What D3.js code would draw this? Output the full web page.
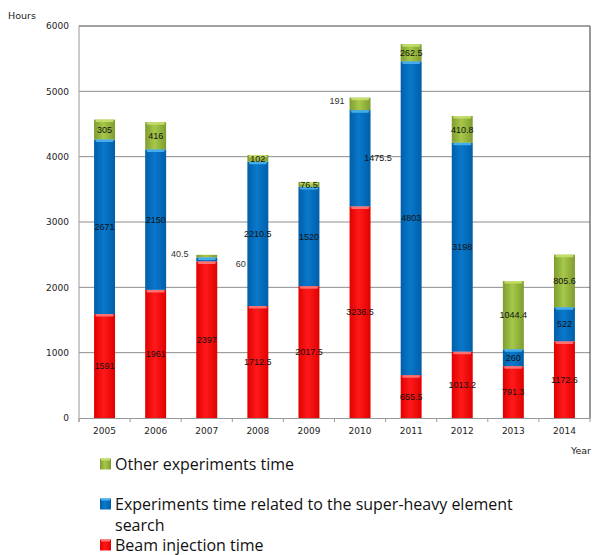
<!DOCTYPE html>
<html>
<head>
<meta charset="utf-8">
<script src="https://cdn.jsdelivr.net/npm/d3@7"></script>
<style>
  body { margin: 0; background: #fff; }
  svg { display: block; }
</style>
</head>
<body>
<div id="chart"></div>
<script>
var years = ['2005', '2006', '2007', '2008', '2009', '2010', '2011', '2012', '2013', '2014'];
var beamInjection = [1591, 1961, 2397, 1712.5, 2017.5, 3236.5, 655.5, 1013.2, 791.3, 1172.6];
var superHeavy = [2671, 2150, 60, 2210.5, 1520, 1475.5, 4803, 3198, 260, 522];
var otherExperiments = [305, 416, 40.5, 102, 76.5, 191, 262.5, 410.8, 1044.4, 805.6];
var yTicks = [0, 1000, 2000, 3000, 4000, 5000, 6000];

(function() {
var W = 592, H = 555,
    mLeft = 79, mTop = 26, width = 511, height = 392;

var svg = d3.select('#chart').append('svg')
    .attr('width', W)
    .attr('height', H);

var colors = [
    {mid: '#ff1a1a', edge: '#e00000', cap: '#ff7a7a'},
    {mid: '#0a78cc', edge: '#005fa8', cap: '#4db4f0'},
    {mid: '#a6c84a', edge: '#7f9c2f', cap: '#c8e06e'}
];

var defs = svg.append('defs');
colors.forEach(function(c, i) {
    var g = defs.append('linearGradient')
        .attr('id', 'grad' + i)
        .attr('x1', 0).attr('x2', 1).attr('y1', 0).attr('y2', 0);
    g.append('stop').attr('offset', '0%').attr('stop-color', c.edge);
    g.append('stop').attr('offset', '45%').attr('stop-color', c.mid);
    g.append('stop').attr('offset', '100%').attr('stop-color', c.edge);
});

var x = d3.scaleBand()
    .domain(years)
    .range([mLeft, mLeft + width])
    .paddingInner(0.59)
    .paddingOuter(0.295);

var y = d3.scaleLinear()
    .domain([0, 6000])
    .range([mTop + height, mTop]);

// grid lines
svg.append('g').selectAll('line')
    .data(yTicks.filter(function(d) { return d > 0 && d < 6000; }))
    .enter().append('line')
    .attr('x1', mLeft).attr('x2', mLeft + width)
    .attr('y1', function(d) { return y(d); })
    .attr('y2', function(d) { return y(d); })
    .attr('stroke', '#8c8c8c')
    .attr('stroke-width', 1);

// frame: top and right dark, left axis gray
svg.append('line')
    .attr('x1', mLeft).attr('x2', mLeft + width)
    .attr('y1', y(6000)).attr('y2', y(6000))
    .attr('stroke', '#444').attr('stroke-width', 1.2);
svg.append('line')
    .attr('x1', mLeft + width).attr('x2', mLeft + width)
    .attr('y1', y(6000)).attr('y2', y(0))
    .attr('stroke', '#555').attr('stroke-width', 1.2);
svg.append('line')
    .attr('x1', mLeft).attr('x2', mLeft)
    .attr('y1', y(6000)).attr('y2', y(0) + 4)
    .attr('stroke', '#999').attr('stroke-width', 1);

// y axis labels
var yAxis = d3.axisLeft(y)
    .tickValues(yTicks)
    .tickFormat(d3.format('d'))
    .tickSize(0)
    .tickPadding(10);
var yy = svg.append('g')
    .attr('transform', 'translate(' + mLeft + ',0)')
    .call(yAxis);
yy.select('.domain').remove();
yy.selectAll('text')
    .style('font-family', 'DejaVu Sans, Verdana, sans-serif')
    .style('font-size', '9px')
    .attr('fill', '#222');

// x axis
var step = x.step();
var xAxis = d3.axisBottom(x).tickSize(0).tickPadding(10);
var xx = svg.append('g')
    .attr('transform', 'translate(0,' + y(0) + ')')
    .call(xAxis);
xx.select('.domain').attr('stroke', '#999');
xx.selectAll('text')
    .style('font-family', 'DejaVu Sans, Verdana, sans-serif')
    .style('font-size', '9px')
    .attr('fill', '#222');
xx.append('g').selectAll('line')
    .data(d3.range(years.length + 1))
    .enter().append('line')
    .attr('x1', function(i) { return mLeft + i * step; })
    .attr('x2', function(i) { return mLeft + i * step; })
    .attr('y1', 0).attr('y2', 4)
    .attr('stroke', '#999');

// stacked data
var rows = years.map(function(yr, i) {
    return {year: yr, values: [beamInjection[i], superHeavy[i], otherExperiments[i]]};
});
var segments = [];
rows.forEach(function(r) {
    var base = 0;
    r.values.forEach(function(v, s) {
        segments.push({year: r.year, series: s, y0: base, y1: base + v, value: v});
        base += v;
    });
});

var bars = svg.append('g');
bars.selectAll('rect.seg')
    .data(segments)
    .enter().append('rect')
    .attr('class', 'seg')
    .attr('x', function(d) { return x(d.year); })
    .attr('width', x.bandwidth())
    .attr('y', function(d) { return y(d.y1); })
    .attr('height', function(d) { return y(d.y0) - y(d.y1); })
    .attr('fill', function(d) { return 'url(#grad' + d.series + ')'; });

// light cap at the top of each segment
bars.selectAll('rect.cap')
    .data(segments.filter(function(d) { return y(d.y0) - y(d.y1) > 3; }))
    .enter().append('rect')
    .attr('class', 'cap')
    .attr('x', function(d) { return x(d.year) + 1.5; })
    .attr('width', x.bandwidth() - 3)
    .attr('y', function(d) { return y(d.y1); })
    .attr('height', 2.5)
    .attr('rx', 1.2)
    .attr('fill', function(d) { return colors[d.series].cap; })
    .attr('opacity', 0.9);

// value labels: some sit beside the bar
var labelShift = {
    '2007-1': {dx: 34, dy: 4, outside: true},
    '2007-2': {dx: -27, dy: -2, outside: true},
    '2010-1': {dx: 18, dy: 0, outside: false},
    '2010-2': {dx: -23, dy: -3, outside: true}
};
svg.append('g').selectAll('text')
    .data(segments)
    .enter().append('text')
    .attr('x', function(d) {
        var s = labelShift[d.year + '-' + d.series];
        return x(d.year) + x.bandwidth() / 2 + (s ? s.dx : 0);
    })
    .attr('y', function(d) {
        var s = labelShift[d.year + '-' + d.series];
        return y((d.y0 + d.y1) / 2) + (s ? s.dy : 0);
    })
    .attr('dy', '0.35em')
    .attr('text-anchor', 'middle')
    .style('font-family', 'Liberation Sans, Arial, sans-serif')
    .style('font-size', '9px')
    .attr('fill', function(d) {
        var s = labelShift[d.year + '-' + d.series];
        return s && s.outside ? '#333' : '#111';
    })
    .text(function(d) { return String(d.value); });

// axis titles
svg.append('text')
    .attr('x', 8).attr('y', 19)
    .style('font-family', 'DejaVu Sans, Verdana, sans-serif')
    .style('font-size', '9.5px')
    .attr('fill', '#222')
    .text('Hours');
svg.append('text')
    .attr('x', 591).attr('y', 454)
    .attr('text-anchor', 'end')
    .style('font-family', 'DejaVu Sans, Verdana, sans-serif')
    .style('font-size', '9.5px')
    .attr('fill', '#222')
    .text('Year');

// legend (top to bottom: other, super-heavy, beam)
var legendRows = [
    {series: 2, lines: ['Other experiments time'], y: 464},
    {series: 1, lines: ['Experiments time related to the super-heavy element', 'search'], y: 504},
    {series: 0, lines: ['Beam injection time'], y: 545}
];
var legend = svg.append('g').selectAll('g')
    .data(legendRows)
    .enter().append('g')
    .attr('transform', function(d) { return 'translate(100,' + d.y + ')'; });
legend.append('rect')
    .attr('x', 0).attr('y', -5.5)
    .attr('width', 11).attr('height', 11)
    .attr('fill', function(d) { return 'url(#grad' + d.series + ')'; });
legend.append('rect')
    .attr('x', 1).attr('y', -5.5)
    .attr('width', 9).attr('height', 2)
    .attr('fill', function(d) { return colors[d.series].cap; });
legend.append('text')
    .style('font-family', 'Open Sans, Noto Sans, sans-serif')
    .style('font-size', '16px')
    .attr('fill', '#111')
    .selectAll('tspan')
    .data(function(d) { return d.lines; })
    .enter().append('tspan')
    .attr('x', 15)
    .attr('y', function(d, i) { return i * 21; })
    .attr('dy', '0.35em')
    .text(function(d) { return d; });
})();
</script>
</body>
</html>
